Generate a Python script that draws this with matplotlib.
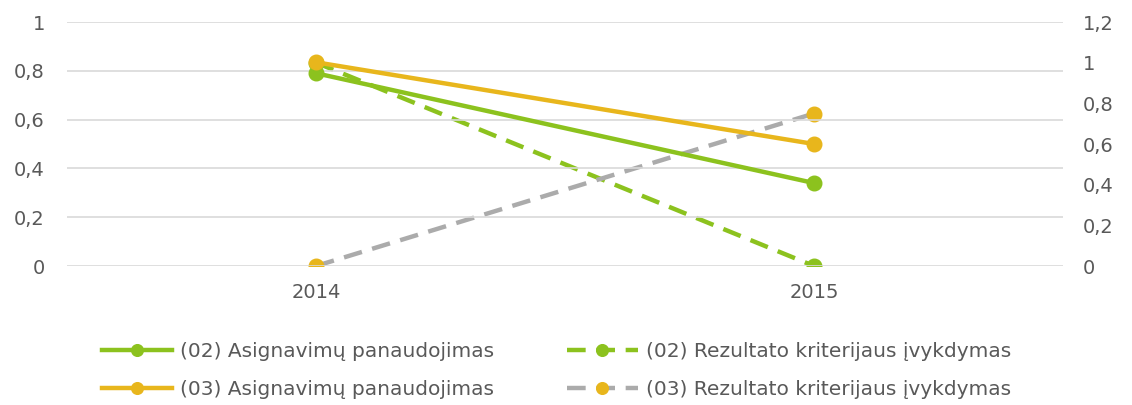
import matplotlib.pyplot as plt
from matplotlib.ticker import FuncFormatter

plt.rcParams['font.family'] = ['DejaVu Sans']

years = ['2014', '2015']
asign_02 = [0.79, 0.34]
asign_03 = [0.835, 0.50]
rezult_02 = [1.0, 0.0]
rezult_03 = [0.0, 0.75]

labels = ['(02) Asignavimų panaudojimas', '(03) Asignavimų panaudojimas',
          '(02) Rezultato kriterijaus įvykdymas', '(03) Rezultato kriterijaus įvykdymas']

GREEN = '#8cc21e'
ORANGE = '#e8b61c'
GREY = '#ababab'
TEXT = '#595959'


def comma(v, pos):
    s = f'{v:.1f}'.rstrip('0').rstrip('.')
    return s.replace('.', ',')


fig = plt.figure(figsize=(11.32, 4.05), dpi=100)
ax = fig.add_axes([67 / 1132, 139 / 405, 996 / 1132, 244 / 405])
ax2 = ax.twinx()

x = range(len(years))
lw = 3.2
ms = 10.5
dash = (0, (4.2, 2.4))

# secondary axis: dashed lines
l3, = ax2.plot(x, rezult_02, color=GREEN, lw=lw, ls=dash, marker='o', ms=ms,
               markerfacecolor=GREEN, markeredgecolor=GREEN, zorder=2)
l4, = ax2.plot(x, rezult_03, color=GREY, lw=lw, ls=dash, marker='o', ms=ms,
               markerfacecolor=ORANGE, markeredgecolor=ORANGE, zorder=2)

# primary axis drawn on top
ax.set_zorder(ax2.get_zorder() + 1)
ax.patch.set_visible(False)
l1, = ax.plot(x, asign_02, color=GREEN, lw=lw, marker='o', ms=ms, zorder=3)
l2, = ax.plot(x, asign_03, color=ORANGE, lw=lw, marker='o', ms=ms, zorder=4)

ax.set_xlim(-0.5, 1.5)
ax.set_ylim(0, 1)
ax2.set_ylim(0, 1.2)
ax.set_yticks([0, 0.2, 0.4, 0.6, 0.8, 1.0])
ax2.set_yticks([0, 0.2, 0.4, 0.6, 0.8, 1.0, 1.2])
ax.set_xticks(list(x))
ax.set_xticklabels(years)
ax.yaxis.set_major_formatter(FuncFormatter(comma))
ax2.yaxis.set_major_formatter(FuncFormatter(comma))

for a in (ax, ax2):
    for s in a.spines.values():
        s.set_visible(False)
    a.tick_params(length=0, labelsize=14, colors=TEXT)
ax.tick_params(axis='y', pad=16)
ax2.tick_params(axis='y', pad=14)
ax.tick_params(axis='x', pad=12)

ax.yaxis.grid(True, color='#d9d9d9', lw=1.2)
ax.set_axisbelow(True)

fig.legend([l1, l2, l3, l4], labels, ncol=2, loc='upper left',
           bbox_to_anchor=(0.074, 0.2), frameon=False, fontsize=14.5,
           labelcolor=TEXT, handlelength=3.5, handletextpad=0.4,
           columnspacing=3.6, labelspacing=0.95, numpoints=1, markerscale=0.8)

fig.savefig('out.png', dpi=100)
